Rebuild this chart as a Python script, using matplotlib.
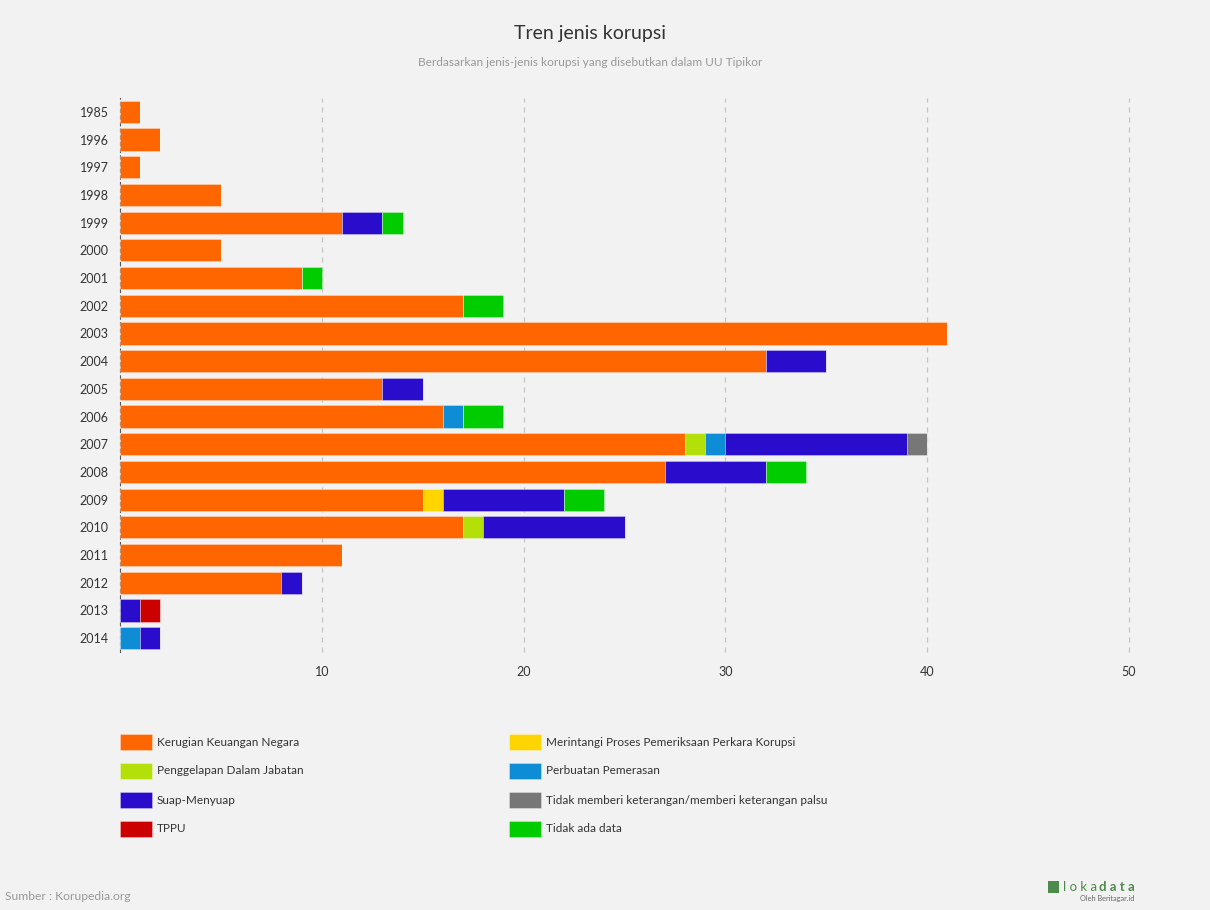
import matplotlib
matplotlib.use("Agg")
import matplotlib.pyplot as plt
from matplotlib.patches import Rectangle
import numpy as np

plt.rcParams['font.family'] = ['Lato', 'DejaVu Sans']

years = ["1985", "1996", "1997", "1998", "1999", "2000", "2001", "2002", "2003", "2004",
         "2005", "2006", "2007", "2008", "2009", "2010", "2011", "2012", "2013", "2014"]

series_names = ["Kerugian Keuangan Negara",
                "Merintangi Proses Pemeriksaan Perkara Korupsi",
                "Penggelapan Dalam Jabatan",
                "Perbuatan Pemerasan",
                "Suap-Menyuap",
                "Tidak memberi keterangan/memberi keterangan palsu",
                "TPPU",
                "Tidak ada data"]

kerugian    = [1, 2, 1, 5, 11, 5, 9, 17, 41, 32, 13, 16, 28, 27, 15, 17, 11, 8, 0, 0]
merintangi  = [0, 0, 0, 0, 0, 0, 0, 0, 0, 0, 0, 0, 0, 0, 1, 0, 0, 0, 0, 0]
penggelapan = [0, 0, 0, 0, 0, 0, 0, 0, 0, 0, 0, 0, 1, 0, 0, 1, 0, 0, 0, 0]
pemerasan   = [0, 0, 0, 0, 0, 0, 0, 0, 0, 0, 0, 1, 1, 0, 0, 0, 0, 0, 0, 1]
suap        = [0, 0, 0, 0, 2, 0, 0, 0, 0, 3, 2, 0, 9, 5, 6, 7, 0, 1, 1, 1]
tidak_beri  = [0, 0, 0, 0, 0, 0, 0, 0, 0, 0, 0, 0, 1, 0, 0, 0, 0, 0, 0, 0]
tppu        = [0, 0, 0, 0, 0, 0, 0, 0, 0, 0, 0, 0, 0, 0, 0, 0, 0, 0, 1, 0]
tidak_ada   = [0, 0, 0, 0, 1, 0, 1, 2, 0, 0, 0, 2, 0, 2, 2, 0, 0, 0, 0, 0]

series_values = [kerugian, merintangi, penggelapan, pemerasan, suap, tidak_beri, tppu, tidak_ada]
colors = ["#ff6600", "#ffd500", "#b4e00a", "#0e8dd6", "#2a0ccc", "#777777", "#cc0000", "#00cc00"]
xticks = [10, 20, 30, 40, 50]

BG = "#f2f2f2"
fig = plt.figure(figsize=(12.1, 9.1), dpi=100, facecolor=BG)
W, H = 1210, 910
ax = fig.add_axes([120 / W, 1 - 652 / H, (1129 - 120) / W, (652 - 98) / H])
ax.set_facecolor(BG)

y = np.arange(len(years))
left = np.zeros(len(years))
for name, vals, c in zip(series_names, series_values, colors):
    v = np.array(vals, dtype=float)
    ax.barh(y, v, left=left, height=0.8, color=c, edgecolor=(1, 1, 1, 0.35),
            linewidth=0.6, label=name, zorder=3)
    left += v

ax.set_xlim(0, 50)
ax.set_ylim(len(years) - 0.5, -0.5)
ax.set_yticks(y)
ax.set_yticklabels(years, fontsize=9, color="#333333")
ax.set_xticks(xticks)
ax.set_xticklabels([str(t) for t in xticks], fontsize=9, color="#333333")
ax.tick_params(axis='both', length=0)
ax.tick_params(axis='x', pad=10)
ax.tick_params(axis='y', pad=8)
for t in xticks:
    ax.axvline(t, color="#c4c4c4", linestyle=(0, (4, 4)), linewidth=0.9, zorder=1,
               clip_on=False)
for s in ["top", "right", "bottom"]:
    ax.spines[s].set_visible(False)
ax.spines["left"].set_linestyle((0, (3, 3)))
ax.spines["left"].set_color("#555555")
ax.spines["left"].set_linewidth(0.8)

# Title and subtitle
fig.text(590 / W, 1 - 33 / H, "Tren jenis korupsi", ha="center", va="center",
         fontsize=14, color="#333333")
fig.text(590 / W, 1 - 62 / H, "Berdasarkan jenis-jenis korupsi yang disebutkan dalam UU Tipikor",
         ha="center", va="center", fontsize=8.6, color="#999999")

# Legend (row-major, two columns)
col_x = [120, 509]
row_y = [742, 771, 800, 829]
pw, ph = 32, 16
for i, (name, c) in enumerate(zip(series_names, colors)):
    r, col = i // 2, i % 2
    x0, yc = col_x[col], row_y[r]
    fig.patches.append(Rectangle((x0 / W, 1 - (yc + ph / 2) / H), pw / W, ph / H,
                                 transform=fig.transFigure, facecolor=c,
                                 edgecolor=(1, 1, 1, 0.35), linewidth=0.6))
    fig.text((x0 + pw + 5) / W, 1 - yc / H, name, ha="left", va="center",
             fontsize=8.5, color="#333333")

# Source and logo
fig.text(5 / W, 1 - 897 / H, "Sumber : Korupedia.org", ha="left", va="center",
         fontsize=8.7, color="#999999")
fig.patches.append(Rectangle((1048 / W, 1 - 893 / H), 11 / W, 12 / H,
                             transform=fig.transFigure, facecolor="#4e8a4e", edgecolor="none"))
fig.text(1063 / W, 1 - 887 / H, "l o k a ", ha="left", va="center",
         fontsize=9.5, color="#4e8a4e", fontweight="normal")
fig.text(1099 / W, 1 - 887 / H, "d a t a", ha="left", va="center",
         fontsize=9.5, color="#4e8a4e", fontweight="bold")
fig.text(1134 / W, 1 - 899 / H, "Oleh Beritagar.id", ha="right", va="center",
         fontsize=5.3, color="#666666")

fig.savefig("out.png", dpi=100, facecolor=BG)
